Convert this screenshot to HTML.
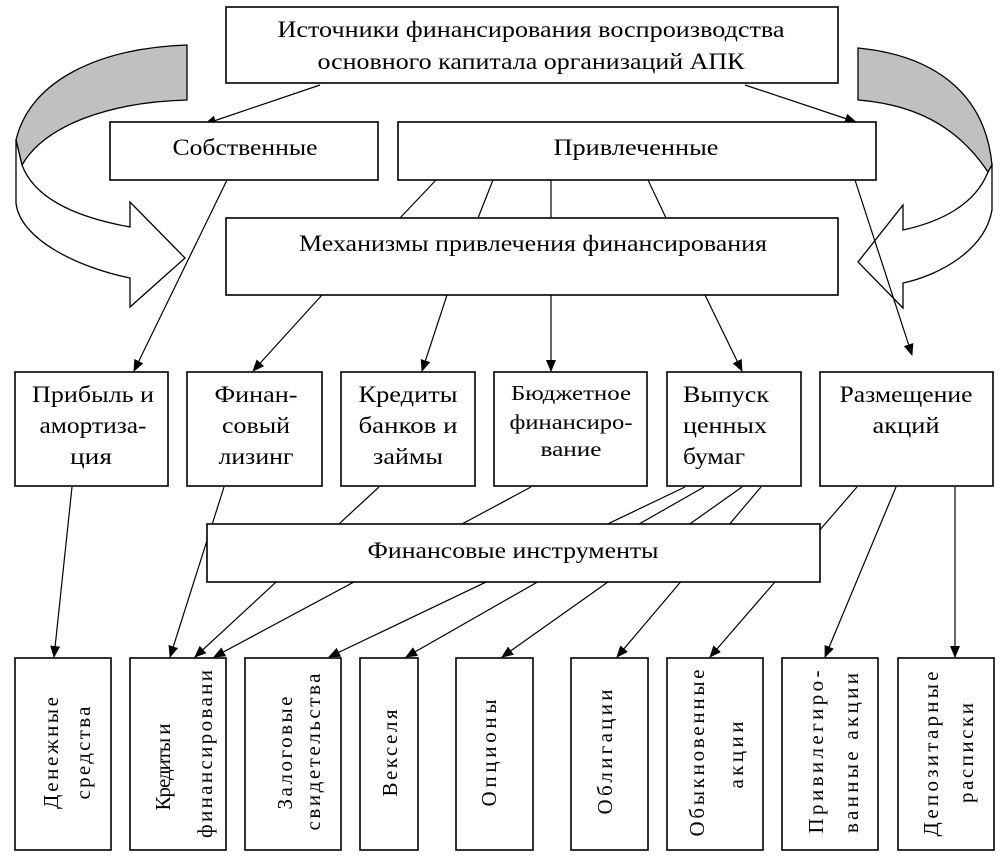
<!DOCTYPE html>
<html><head><meta charset="utf-8"><style>
html,body{margin:0;padding:0;background:#fff;}
svg{display:block;}
text{font-family:"Liberation Serif",serif;fill:#000;}
</style></head><body>
<svg width="1002" height="856" viewBox="0 0 1002 856" xmlns="http://www.w3.org/2000/svg">
<defs>
<marker id="a" markerWidth="12" markerHeight="10" refX="11" refY="5" orient="auto" markerUnits="userSpaceOnUse">
<path d="M0,0 L12,5 L0,10 Z" fill="#000"/></marker>
</defs>
<g fill="none" stroke="#000" stroke-width="1.3">
<path d="M187,45 C100,48 30,80 16,140 L22,165 C45,125 110,102 187,100 Z" fill="#c0c0c0"/>
<path d="M16,140 L16,203 C20,240 80,268 130,278 L130,307 L185,258 L130,202 L130,227 C80,218 35,200 22,165 Z" fill="#fff"/>
<path d="M858,48 C930,55 985,90 992,165 L988,172 C960,130 920,105 858,100 Z" fill="#c0c0c0"/>
<path d="M992,165 L992,210 C985,250 940,275 903,283 L903,308 L858,262 L903,205 L903,230 C940,222 975,205 988,172 Z" fill="#fff"/>
</g>
<g stroke="#000" stroke-width="1.2" fill="none">
<line x1="320" y1="85" x2="205" y2="124" marker-end="url(#a)"/>
<line x1="745" y1="85" x2="856" y2="122" marker-end="url(#a)"/>
<line x1="227" y1="180" x2="134" y2="371" marker-end="url(#a)"/>
<line x1="436" y1="180" x2="400" y2="218"/>
<line x1="493" y1="180" x2="478" y2="218"/>
<line x1="551" y1="180" x2="551" y2="218"/>
<line x1="648" y1="180" x2="666" y2="218"/>
<line x1="855" y1="180" x2="912" y2="355" marker-end="url(#a)"/>
<line x1="322" y1="295" x2="253" y2="371" marker-end="url(#a)"/>
<line x1="447" y1="295" x2="422" y2="371" marker-end="url(#a)"/>
<line x1="551" y1="295" x2="551" y2="371" marker-end="url(#a)"/>
<line x1="705" y1="295" x2="742" y2="371" marker-end="url(#a)"/>
<line x1="72" y1="487" x2="54" y2="657" marker-end="url(#a)"/>
<line x1="224" y1="487" x2="170" y2="657" marker-end="url(#a)"/>
<line x1="379" y1="487" x2="195" y2="657" marker-end="url(#a)"/>
<line x1="531" y1="487" x2="214" y2="657" marker-end="url(#a)"/>
<line x1="685" y1="487" x2="329" y2="657" marker-end="url(#a)"/>
<line x1="704" y1="487" x2="406" y2="657" marker-end="url(#a)"/>
<line x1="742" y1="487" x2="502" y2="657" marker-end="url(#a)"/>
<line x1="761" y1="487" x2="617" y2="657" marker-end="url(#a)"/>
<line x1="857" y1="487" x2="710" y2="657" marker-end="url(#a)"/>
<line x1="896" y1="487" x2="825" y2="657" marker-end="url(#a)"/>
<line x1="955" y1="487" x2="955" y2="657" marker-end="url(#a)"/>
</g>
<g fill="#fff" stroke="#000" stroke-width="1.6">
<rect x="226" y="7" width="612" height="76"/>
<rect x="110" y="122" width="268" height="58"/>
<rect x="398" y="122" width="478" height="58"/>
<rect x="226" y="218" width="612" height="77"/>
<rect x="15" y="372" width="153" height="114"/>
<rect x="187" y="372" width="135" height="114"/>
<rect x="341" y="372" width="134" height="114"/>
<rect x="494" y="372" width="153" height="114"/>
<rect x="667" y="372" width="134" height="114"/>
<rect x="820" y="372" width="173" height="114"/>
<rect x="207" y="524" width="613" height="58"/>
<rect x="15" y="658" width="96" height="192"/>
<rect x="130" y="658" width="96" height="192"/>
<rect x="245" y="658" width="96" height="192"/>
<rect x="360" y="658" width="58" height="192"/>
<rect x="456" y="658" width="77" height="192"/>
<rect x="571" y="658" width="77" height="192"/>
<rect x="667" y="658" width="96" height="192"/>
<rect x="782" y="658" width="96" height="192"/>
<rect x="898" y="658" width="96" height="192"/>
</g>
<g font-size="23" text-anchor="middle" lengthAdjust="spacingAndGlyphs">
<text x="531" y="37" textLength="507" lengthAdjust="spacingAndGlyphs">Источники финансирования воспроизводства</text>
<text x="531" y="69" textLength="427" lengthAdjust="spacingAndGlyphs">основного капитала организаций АПК</text>
<text x="245" y="155" textLength="145" lengthAdjust="spacingAndGlyphs">Собственные</text>
<text x="636" y="155" textLength="165" lengthAdjust="spacingAndGlyphs">Привлеченные</text>
<text x="533" y="251" textLength="468" lengthAdjust="spacingAndGlyphs">Механизмы привлечения финансирования</text>
<text x="513" y="558" textLength="291" lengthAdjust="spacingAndGlyphs">Финансовые инструменты</text>
</g>
<g font-size="23" text-anchor="middle">
<text x="93" y="402" textLength="122" lengthAdjust="spacingAndGlyphs">Прибыль и</text>
<text x="93" y="433" textLength="107" lengthAdjust="spacingAndGlyphs">амортиза-</text>
<text x="91" y="464" textLength="42" lengthAdjust="spacingAndGlyphs">ция</text>
<text x="256" y="402" textLength="83" lengthAdjust="spacingAndGlyphs">Финан-</text>
<text x="256" y="433" textLength="68" lengthAdjust="spacingAndGlyphs">совый</text>
<text x="256" y="464" textLength="75" lengthAdjust="spacingAndGlyphs">лизинг</text>
<text x="408" y="402" textLength="99" lengthAdjust="spacingAndGlyphs">Кредиты</text>
<text x="408" y="433" textLength="99" lengthAdjust="spacingAndGlyphs">банков и</text>
<text x="408" y="464" textLength="70" lengthAdjust="spacingAndGlyphs">займы</text>
<text x="571" y="400" font-size="21" textLength="120" lengthAdjust="spacingAndGlyphs">Бюджетное</text>
<text x="571" y="429" font-size="21" textLength="123" lengthAdjust="spacingAndGlyphs">финансиро-</text>
<text x="571" y="456" font-size="21" textLength="61" lengthAdjust="spacingAndGlyphs">вание</text>
<text x="906" y="402" textLength="133" lengthAdjust="spacingAndGlyphs">Размещение</text>
<text x="906" y="433" textLength="67" lengthAdjust="spacingAndGlyphs">акций</text>
</g>
<g font-size="23" text-anchor="start">
<text x="683" y="402" textLength="86" lengthAdjust="spacingAndGlyphs">Выпуск</text>
<text x="683" y="433" textLength="84" lengthAdjust="spacingAndGlyphs">ценных</text>
<text x="683" y="464" textLength="62" lengthAdjust="spacingAndGlyphs">бумаг</text>
</g>
<g font-size="21" text-anchor="middle" dominant-baseline="central">
<text transform="translate(51,753) rotate(-90)" textLength="112" lengthAdjust="spacing">Денежные</text>
<text transform="translate(83,753) rotate(-90)" textLength="93" lengthAdjust="spacing">средства</text>
<text transform="translate(163,767) rotate(-90)" textLength="87" lengthAdjust="spacing">Кредиты и</text>
<text transform="translate(205,754) rotate(-90)" textLength="168" lengthAdjust="spacing">финансировани</text>
<text transform="translate(285,753) rotate(-90)" textLength="113" lengthAdjust="spacing">Залоговые</text>
<text transform="translate(313,752) rotate(-90)" textLength="157" lengthAdjust="spacing">свидетельства</text>
<text transform="translate(390,753) rotate(-90)" textLength="87" lengthAdjust="spacing">Векселя</text>
<text transform="translate(489,753) rotate(-90)" textLength="107" lengthAdjust="spacing">Опционы</text>
<text transform="translate(605,752) rotate(-90)" textLength="125" lengthAdjust="spacing">Облигации</text>
<text transform="translate(697,753) rotate(-90)" textLength="167" lengthAdjust="spacing">Обыкновенные</text>
<text transform="translate(736,755) rotate(-90)" textLength="67" lengthAdjust="spacing">акции</text>
<text transform="translate(816,752) rotate(-90)" textLength="163" lengthAdjust="spacing">Привилегиро-</text>
<text transform="translate(851,753) rotate(-90)" textLength="160" lengthAdjust="spacing">ванные акции</text>
<text transform="translate(931,754) rotate(-90)" textLength="165" lengthAdjust="spacing">Депозитарные</text>
<text transform="translate(966,753) rotate(-90)" textLength="100" lengthAdjust="spacing">расписки</text>
</g>
</svg>
</body></html>
